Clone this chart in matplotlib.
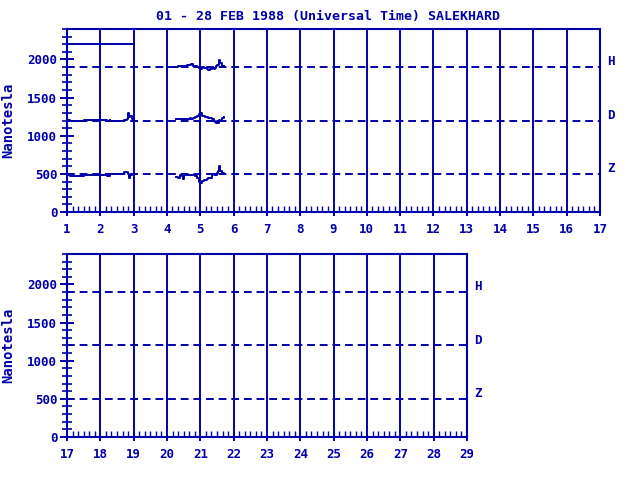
import matplotlib
matplotlib.use("Agg")
import matplotlib.pyplot as plt
from matplotlib.ticker import MultipleLocator

BLUE = "#0000aa"
plt.rcParams["font.family"] = ["DejaVu Sans Mono"]
plt.rcParams["font.weight"] = "bold"

title = "01 - 28 FEB 1988 (Universal Time) SALEKHARD"
components = ["H", "D", "Z"]
baselines = [1900, 1200, 500]

# scale marker line drawn at the top of the first panel
scale_days = [1.0, 3.0]
scale_vals = [2200, 2200]

# day 1-3 segment
d1_days = [1.0, 1.1, 1.1, 1.5, 1.5, 2.2, 2.2, 2.3, 2.3, 2.7, 2.7, 2.8, 2.82, 2.86, 2.9, 2.95, 3.0]
d1_D = [1205, 1200, 1198, 1200, 1203, 1200, 1198, 1202, 1200, 1205, 1208, 1215, 1295, 1240, 1260, 1215, 1205]
d1_Z = [490, 488, 470, 470, 490, 490, 475, 475, 495, 497, 520, 520, 505, 440, 480, 495, 495]

# day 4.3-5.7 segment
d2_days = [4.27, 4.33, 4.39, 4.45, 4.48, 4.52, 4.6, 4.69, 4.72, 4.78, 4.84, 4.9, 4.96, 4.99,
           5.05, 5.1, 5.14, 5.2, 5.23, 5.29, 5.35, 5.4, 5.44, 5.48, 5.5, 5.53, 5.56, 5.6, 5.65, 5.71]
d2_H = [1905, 1910, 1915, 1915, 1920, 1918, 1922, 1925, 1940, 1920, 1915, 1905, 1890, 1870,
        1900, 1895, 1890, 1880, 1860, 1875, 1885, 1880, 1890, 1910, 1930, 1925, 1995, 1950, 1920, 1912]
d2_D = [1215, 1215, 1215, 1215, 1215, 1215, 1218, 1230, 1225, 1235, 1250, 1265, 1285, 1300,
        1260, 1255, 1250, 1245, 1230, 1235, 1220, 1200, 1185, 1170, 1190, 1165, 1210, 1200, 1230, 1250]
d2_Z = [455, 440, 480, 478, 435, 490, 485, 488, 490, 487, 470, 440, 400, 378,
        405, 420, 425, 430, 440, 450, 500, 480, 505, 490, 510, 540, 600, 540, 510, 500]
d2_series = [d2_H, d2_D, d2_Z]

panels = [(1, 17), (17, 29)]


def style_axes(ax, start, end):
    ax.set_xlim(start, end)
    ax.set_ylim(0, 2400)
    for s in ax.spines.values():
        s.set_color(BLUE)
        s.set_linewidth(1.5)
    ax.set_xticks(range(start, end + 1))
    ax.xaxis.set_minor_locator(MultipleLocator(1 / 6))
    ax.set_yticks([0, 500, 1000, 1500, 2000])
    ax.yaxis.set_minor_locator(MultipleLocator(100))
    ax.tick_params(axis="x", which="major", direction="out", length=3, width=1.4,
                   colors=BLUE, labelsize=9, pad=5)
    ax.tick_params(axis="x", which="minor", direction="in", length=4.5, width=1.0, colors=BLUE)
    ax.tick_params(axis="y", which="major", direction="inout", length=10, width=1.4,
                   colors=BLUE, labelsize=9, pad=2)
    ax.tick_params(axis="y", which="minor", direction="inout", length=6.5, width=1.2, colors=BLUE)
    for lab in ax.get_xticklabels() + ax.get_yticklabels():
        lab.set_fontweight("bold")
    ax.set_ylabel("Nanotesla", color=BLUE, fontsize=10, fontweight="bold", labelpad=9)
    for d in range(start + 1, end):
        ax.axvline(d, color=BLUE, lw=1.4)
    for name, b in zip(components, baselines):
        ax.axhline(b, color=BLUE, lw=1.4, dashes=(4, 2.5))
        ax.text(end + 0.22, b + 70, name, color=BLUE, fontsize=9, fontweight="bold",
                va="center", ha="left", clip_on=False)


fig = plt.figure(figsize=(6.4, 4.8), dpi=100)
ax1 = fig.add_axes([0.1047, 0.5583, 0.8328, 0.3813])
ax2 = fig.add_axes([0.1047, 0.0896, 0.625, 0.3813])
style_axes(ax1, *panels[0])
style_axes(ax2, *panels[1])

ax1.plot(scale_days, scale_vals, color=BLUE, lw=1.4)
ax1.plot(d1_days, d1_D, color=BLUE, lw=1.4, drawstyle="steps-post")
ax1.plot(d1_days, d1_Z, color=BLUE, lw=1.4, drawstyle="steps-post")
for vals in d2_series:
    ax1.plot(d2_days, vals, color=BLUE, lw=1.4, drawstyle="steps-post")

fig.text(0.512, 0.966, title, color=BLUE, fontsize=9.5, fontweight="bold", ha="center", va="center")

fig.savefig("out.png", dpi=100)
